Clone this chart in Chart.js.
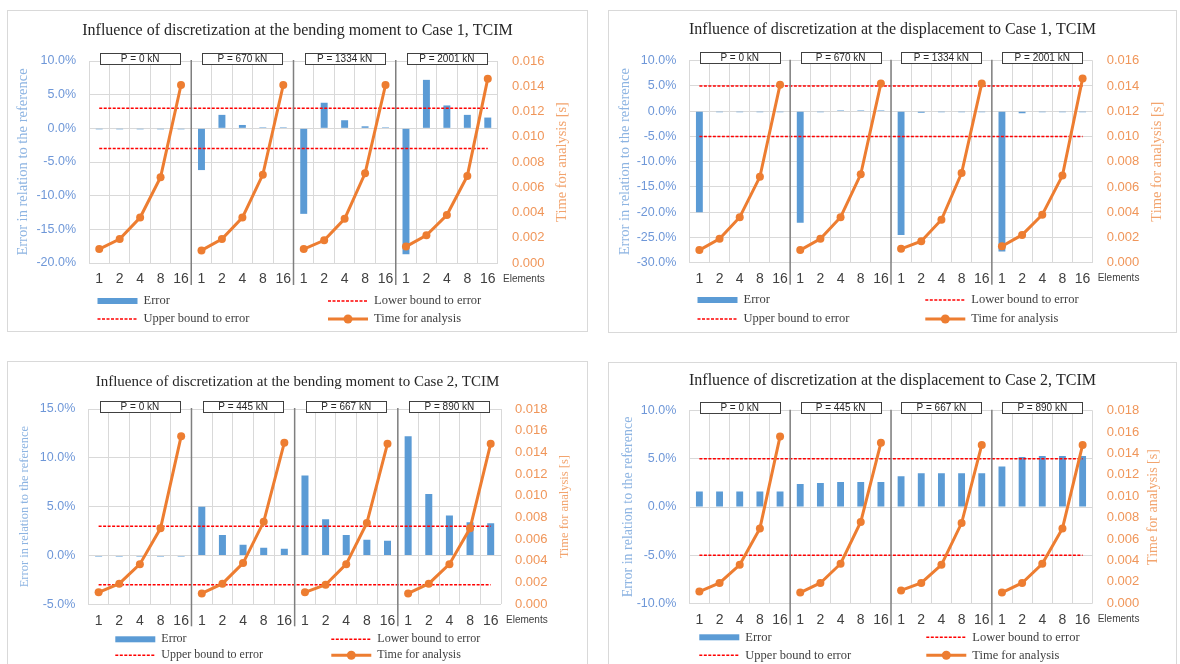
<!DOCTYPE html>
<html>
<head>
<meta charset="utf-8">
<title>Influence of discretization, TCIM</title>
<script src="https://cdn.jsdelivr.net/npm/chart.js@4.4.0/dist/chart.umd.min.js"></script>
<style>
  html, body { margin: 0; padding: 0; background: #ffffff; width: 1180px; height: 664px; overflow: hidden; }
  .panel { position: absolute; }
  .panel canvas { display: block; }
</style>
</head>
<body>
<div class="panel" style="left:7px;top:10px"><canvas id="momentCase1" width="581" height="322"></canvas></div>
<div class="panel" style="left:608px;top:10px"><canvas id="dispCase1" width="569" height="323"></canvas></div>
<div class="panel" style="left:7px;top:361px"><canvas id="momentCase2" width="581" height="320"></canvas></div>
<div class="panel" style="left:608px;top:362px"><canvas id="dispCase2" width="569" height="320"></canvas></div>

<script>
// Number of finite elements per member (repeated for every load level)
const elements = ['1', '2', '4', '8', '16'];

// Load levels
const loadsCase1 = ['P = 0 kN', 'P = 670 kN', 'P = 1334 kN', 'P = 2001 kN'];
const loadsCase2 = ['P = 0 kN', 'P = 445 kN', 'P = 667 kN', 'P = 890 kN'];

// Error in relation to the reference [%]
const errorMomentCase1 = [-0.05, -0.05, -0.05, -0.05, -0.05,  -6.2, 2.0, 0.5, 0.05, 0.05,  -12.7, 3.8, 1.2, 0.3, 0.05,  -18.7, 7.2, 3.4, 2.0, 1.6];
const errorDispCase1   = [-20.0, -0.1, -0.1, -0.1, -0.1,  -22.1, -0.1, 0.1, 0.1, 0.1,  -24.5, -0.3, -0.1, -0.1, -0.1,  -27.8, -0.4, -0.1, -0.1, -0.1];
const errorMomentCase2 = [-0.05, -0.05, -0.05, -0.05, -0.05,  5.0, 2.1, 1.1, 0.8, 0.7,  8.2, 3.7, 2.1, 1.6, 1.5,  12.2, 6.3, 4.1, 3.4, 3.3];
const errorDispCase2   = [1.6, 1.6, 1.6, 1.6, 1.6,  2.4, 2.5, 2.6, 2.6, 2.6,  3.2, 3.5, 3.5, 3.5, 3.5,  4.2, 5.2, 5.3, 5.3, 5.3];

// Time for analysis [s]
const timeMomentCase1 = [0.0011, 0.0019, 0.0036, 0.0068, 0.0141,  0.0010, 0.0019, 0.0036, 0.0070, 0.0141,  0.0011, 0.0018, 0.0035, 0.0071, 0.0141,  0.0013, 0.0022, 0.0038, 0.0069, 0.0146];
const timeDispCase1   = [0.0010, 0.0019, 0.0036, 0.0068, 0.0141,  0.0010, 0.0019, 0.0036, 0.0070, 0.0142,  0.0011, 0.0017, 0.0034, 0.0071, 0.0142,  0.0013, 0.0022, 0.0038, 0.0069, 0.0146];
const timeMomentCase2 = [0.0011, 0.0019, 0.0037, 0.0070, 0.0155,  0.0010, 0.0019, 0.0038, 0.0076, 0.0149,  0.0011, 0.0018, 0.0037, 0.0075, 0.0148,  0.0010, 0.0019, 0.0037, 0.0070, 0.0148];
const timeDispCase2   = [0.0011, 0.0019, 0.0036, 0.0070, 0.0156,  0.0010, 0.0019, 0.0037, 0.0076, 0.0150,  0.0012, 0.0019, 0.0036, 0.0075, 0.0148,  0.0010, 0.0019, 0.0037, 0.0070, 0.0148];

// Accepted error band [%]
const boundMomentCase1 = 3;
const boundDispCase1 = 5;
const boundMomentCase2 = 3;
const boundDispCase2 = 5;

Chart.defaults.font.family = 'Liberation Sans';

// Panel frame, load-level separators and header boxes, legend, right axis title
const decor = {
  id: 'decor',
  beforeDraw(chart) {
    const { ctx, width, height } = chart;
    ctx.save();
    ctx.fillStyle = '#ffffff';
    ctx.fillRect(0, 0, width, height);
    ctx.strokeStyle = '#d9d9d9';
    ctx.lineWidth = 1;
    ctx.strokeRect(0.5, 0.5, width - 1, height - 1);
    ctx.restore();
  },
  afterDraw(chart, args, o) {
    const { ctx, chartArea: a, scales: { x } } = chart;
    const n = elements.length;
    ctx.save();

    // separators between load levels
    ctx.strokeStyle = '#7f7f7f';
    ctx.lineWidth = 1.5;
    for (let g = 1; g < o.groups.length; g++) {
      const sx = (x.getPixelForValue(g * n - 1) + x.getPixelForValue(g * n)) / 2;
      ctx.beginPath();
      ctx.moveTo(sx, a.top - 1);
      ctx.lineTo(sx, a.bottom + 22);
      ctx.stroke();
    }

    // load level header boxes
    ctx.font = '10px "Liberation Sans"';
    ctx.textAlign = 'center';
    ctx.textBaseline = 'middle';
    o.groups.forEach((label, g) => {
      const cx = (x.getPixelForValue(g * n) + x.getPixelForValue(g * n + n - 1)) / 2;
      const bx = Math.round(cx - 40) + 0.5;
      const by = Math.round(a.top - 8.5) + 0.5;
      ctx.fillStyle = '#ffffff';
      ctx.fillRect(bx, by, 80, 11);
      ctx.strokeStyle = '#404040';
      ctx.lineWidth = 1;
      ctx.strokeRect(bx, by, 80, 11);
      ctx.fillStyle = '#262626';
      ctx.fillText(label, cx, by + 6);
    });

    // axis caption at the end of the category axis
    ctx.textAlign = 'left';
    ctx.fillStyle = '#404040';
    ctx.font = '10px "Liberation Sans"';
    ctx.fillText(o.axisCaption, a.right + 5, a.bottom + 16);

    // right axis title, reading bottom to top
    const t = chart.scales.y1.options.title;
    ctx.save();
    ctx.translate(a.right + o.rightTitleGap, (a.top + a.bottom) / 2);
    ctx.rotate(-Math.PI / 2);
    ctx.textAlign = 'center';
    ctx.fillStyle = t.color;
    ctx.font = o.axisTitleSize + 'px "Liberation Serif"';
    ctx.fillText(t.text, 0, 0);
    ctx.restore();

    // legend, two columns and two rows
    ctx.font = o.legendSize + 'px "Liberation Serif"';
    ctx.textBaseline = 'middle';
    chart.data.datasets.forEach((ds, i) => {
      const sx = a.left + o.legendCols[i % 2];
      const sy = a.bottom + o.legendRows[Math.floor(i / 2)];
      const w = 40;
      if (ds.type === 'bar') {
        ctx.fillStyle = ds.backgroundColor;
        ctx.fillRect(sx, sy - 3, w, 6);
      } else {
        ctx.strokeStyle = ds.borderColor;
        ctx.lineWidth = ds.borderWidth;
        ctx.setLineDash(ds.borderDash || []);
        ctx.beginPath();
        ctx.moveTo(sx, sy);
        ctx.lineTo(sx + w, sy);
        ctx.stroke();
        ctx.setLineDash([]);
        if (ds.pointRadius) {
          ctx.fillStyle = ds.pointBackgroundColor;
          ctx.beginPath();
          ctx.arc(sx + w / 2, sy, ds.pointRadius + 0.5, 0, Math.PI * 2);
          ctx.fill();
        }
      }
      ctx.fillStyle = '#404040';
      ctx.textAlign = 'left';
      ctx.fillText(ds.label, sx + w + 6, sy);
    });

    ctx.restore();
  }
};

function buildPanel(canvasId, cfg) {
  const canvas = document.getElementById(canvasId);
  const categories = cfg.loads.flatMap(() => elements);
  return new Chart(canvas, {
    data: {
      labels: categories,
      datasets: [
        {
          type: 'bar', label: 'Error', data: cfg.error, yAxisID: 'y', order: 3,
          backgroundColor: '#5b9bd5', barPercentage: 0.34, categoryPercentage: 1, minBarLength: 1
        },
        {
          type: 'line', label: 'Lower bound to error', data: categories.map(() => -cfg.bound), yAxisID: 'y', order: 1,
          borderColor: '#ff0000', borderWidth: 1.5, borderDash: [3, 1.5], pointRadius: 0, fill: false
        },
        {
          type: 'line', label: 'Upper bound to error', data: categories.map(() => cfg.bound), yAxisID: 'y', order: 1,
          borderColor: '#ff0000', borderWidth: 1.5, borderDash: [3, 1.5], pointRadius: 0, fill: false
        },
        {
          type: 'line', label: 'Time for analysis', data: cfg.time, yAxisID: 'y1', order: 0,
          borderColor: '#ed7d31', borderWidth: 3, pointRadius: 4, pointBorderWidth: 0,
          pointBackgroundColor: '#ed7d31', pointBorderColor: '#ed7d31', fill: false, tension: 0,
          // each load level is its own curve
          segment: { borderColor: c => (c.p1DataIndex % elements.length === 0 ? 'rgba(0,0,0,0)' : undefined) }
        }
      ]
    },
    options: {
      responsive: false,
      animation: false,
      events: [],
      layout: { padding: { left: 0, right: 0, top: 0, bottom: cfg.padBottom } },
      plugins: {
        legend: { display: false },
        tooltip: { enabled: false },
        title: {
          display: true, text: cfg.title, color: '#262626',
          font: { family: 'Liberation Serif', size: cfg.titleSize, weight: 'normal' },
          padding: { top: cfg.titlePad[0], bottom: cfg.titlePad[1] }
        },
        decor: {
          groups: cfg.loads,
          axisCaption: 'Elements',
          rightTitleGap: cfg.rightTitleGap,
          axisTitleSize: cfg.axisTitleSize,
          legendSize: cfg.legendSize,
          legendCols: cfg.legendCols,
          legendRows: cfg.legendRows
        }
      },
      scales: {
        x: {
          type: 'category', offset: true,
          grid: { color: '#d9d9d9', offset: true, drawTicks: false },
          border: { display: false },
          ticks: { color: '#404040', font: { size: 14 }, padding: 8, maxRotation: 0, autoSkip: false },
          afterFit: s => { s.height = 30; }
        },
        y: {
          type: 'linear', position: 'left', min: cfg.yMin, max: cfg.yMax,
          ticks: { stepSize: 5, color: '#6e97d8', font: { size: 12.5 }, padding: 13, callback: v => v.toFixed(1) + '%' },
          grid: { color: '#d9d9d9', drawTicks: false },
          border: { display: false },
          title: {
            display: true, text: 'Error in relation to the reference', color: '#8db4e2',
            font: { family: 'Liberation Serif', size: cfg.axisTitleSize }, padding: { top: cfg.leftTitlePad, bottom: 0 }
          },
          afterFit: s => { s.width = cfg.areaLeft; }
        },
        y1: {
          type: 'linear', position: 'right', min: 0, max: cfg.timeMax,
          ticks: { stepSize: 0.002, color: '#f0965a', font: { size: 13 }, padding: 14, callback: v => v.toFixed(3) },
          grid: { drawOnChartArea: false, drawTicks: false },
          border: { display: false },
          title: { display: false, text: 'Time for analysis [s]', color: '#f2a46e' },
          afterFit: s => { s.width = canvas.width - cfg.areaRight; }
        }
      }
    },
    plugins: [decor]
  });
}

buildPanel('momentCase1', {
  title: 'Influence of discretization at the bending moment to Case 1, TCIM',
  loads: loadsCase1, error: errorMomentCase1, time: timeMomentCase1, bound: boundMomentCase1,
  yMin: -20, yMax: 10, timeMax: 0.016,
  titleSize: 16, titlePad: [11.1, 20.7], axisTitleSize: 14.5, leftTitlePad: 7, rightTitleGap: 64,
  areaLeft: 82, areaRight: 491, padBottom: 39,
  legendSize: 12.5, legendCols: [8.5, 239], legendRows: [38, 56]
});

buildPanel('dispCase1', {
  title: 'Influence of discretization at the displacement to Case 1, TCIM',
  loads: loadsCase1, error: errorDispCase1, time: timeDispCase1, bound: boundDispCase1,
  yMin: -30, yMax: 10, timeMax: 0.016,
  titleSize: 16, titlePad: [10.4, 21.1], axisTitleSize: 14.5, leftTitlePad: 8.3, rightTitleGap: 64,
  areaLeft: 81.3, areaRight: 484.7, padBottom: 40.3,
  legendSize: 12.5, legendCols: [8.2, 236], legendRows: [37.3, 56.3]
});

buildPanel('momentCase2', {
  title: 'Influence of discretization at the bending moment to Case 2, TCIM',
  loads: loadsCase2, error: errorMomentCase2, time: timeMomentCase2, bound: boundMomentCase2,
  yMin: -5, yMax: 15, timeMax: 0.018,
  titleSize: 15, titlePad: [12.3, 17.7], axisTitleSize: 12.5, leftTitlePad: 10.5, rightTitleGap: 64,
  areaLeft: 81.3, areaRight: 494, padBottom: 46.7,
  legendSize: 12, legendCols: [27, 243], legendRows: [35, 51]
});

buildPanel('dispCase2', {
  title: 'Influence of discretization at the displacement to Case 2, TCIM',
  loads: loadsCase2, error: errorDispCase2, time: timeDispCase2, bound: boundDispCase2,
  yMin: -10, yMax: 10, timeMax: 0.018,
  titleSize: 16, titlePad: [9.1, 20.4], axisTitleSize: 14, leftTitlePad: 11.6, rightTitleGap: 60.3,
  areaLeft: 81.3, areaRight: 484.7, padBottom: 48.7,
  legendSize: 12.5, legendCols: [10, 237], legendRows: [34, 52]
});
</script>
</body>
</html>
